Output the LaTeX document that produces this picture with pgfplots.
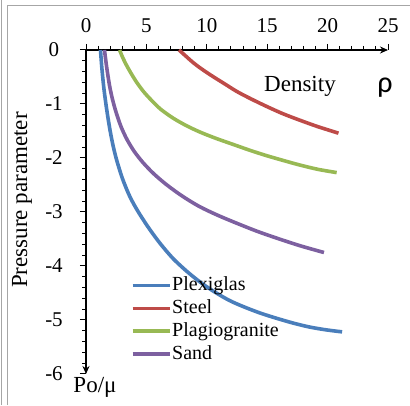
\documentclass[border=0pt]{standalone}
\usepackage{fontspec}
\setmainfont{Liberation Serif}
\newfontfamily\calib{Carlito}
\usepackage{pgfplots}
\pgfplotsset{compat=1.18}
\usetikzlibrary{arrows.meta}
\definecolor{cBlue}{RGB}{74,126,187}
\definecolor{cRed}{RGB}{190,75,72}
\definecolor{cGreen}{RGB}{152,185,84}
\definecolor{cPurple}{RGB}{125,96,160}
\begin{document}
\fontsize{20}{24}\selectfont
\begin{tikzpicture}[x=1pt,y=1pt]
\useasboundingbox (0pt,0pt) rectangle (410pt,405pt);
\draw[black!35, line width=1pt] (1.5pt,0pt) -- (1.5pt,405pt);
\draw[black!35, line width=1pt] (7pt,0pt) -- (7pt,399pt) -- (410pt,399pt);
\begin{axis}[
  every non boxed x axis/.style={},
  every non boxed y axis/.style={},
  axis x line=top, axis y line=left,
  at={(86pt,355pt)}, anchor=north west,
  scale only axis, width=302pt, height=324pt,
  xmin=0, xmax=25, ymin=-6, ymax=0, enlargelimits=false,
  x axis line style={-{Stealth[length=8pt,width=7pt]}},
  y axis line style={{Stealth[length=8pt,width=7pt]}-},
  axis line style={line width=1.2pt, black},
  xtick={0,5,...,25}, ytick={-6,-5,...,0},
  minor x tick num=4, minor y tick num=4,
  tick align=outside, major tick length=6pt, minor tick length=4pt,
  every tick/.style={black, line width=1pt},
  tick label style={font=\fontsize{21}{24}\selectfont},
  xticklabel style={yshift=4pt},
  yticklabel style={anchor=center, xshift=-26pt},
  /pgf/number format/assume math mode=true,
  clip=false,
  legend style={draw=none, fill=none, at={(axis cs:3.7,-4.18)}, anchor=north west,
    font=\fontsize{20}{22}\selectfont, row sep=4pt, inner sep=0pt,
    nodes={inner sep=1pt}},
  legend cell align=left,
  legend image code/.code={\draw[#1, line width=3.3pt] (0pt,0pt) -- (37pt,0pt);},
]
\addplot[cBlue, line width=3.6pt, smooth] coordinates {
 (1.2,0) (1.3,-0.3) (1.45,-0.65) (1.6,-0.92) (1.78,-1.2) (2.0,-1.5) (2.25,-1.78)
 (2.54,-2.04) (3.0,-2.37) (3.5,-2.65) (3.92,-2.84) (4.5,-3.06) (5.3,-3.33) (6.2,-3.6)
 (7.2,-3.86) (8.3,-4.09) (9.4,-4.29) (10.5,-4.46) (11.8,-4.63) (13,-4.75) (14.4,-4.87)
 (15.8,-4.97) (17.2,-5.06) (18.5,-5.13) (19.8,-5.18) (21.2,-5.22)};
\addlegendentry{Plexiglas}
\addplot[cRed, line width=3.6pt, smooth] coordinates {
 (7.7,0) (8.2,-0.1) (8.8,-0.22) (9.5,-0.34) (10.5,-0.49) (11.5,-0.63) (12.5,-0.77)
 (13.7,-0.91) (15,-1.05) (16.3,-1.18) (17.7,-1.30) (19.2,-1.42) (20.9,-1.54)};
\addlegendentry{Steel}
\addplot[cGreen, line width=3.6pt, smooth] coordinates {
 (2.78,0) (3.0,-0.12) (3.3,-0.26) (3.7,-0.42) (4.2,-0.6) (4.8,-0.78) (5.5,-0.95)
 (6.2,-1.1) (7.2,-1.26) (8.3,-1.4) (9.44,-1.52) (10.8,-1.64) (12.2,-1.75) (13.6,-1.86)
 (15,-1.96) (16.4,-2.05) (17.7,-2.13) (19.2,-2.21) (20.75,-2.27)};
\addlegendentry{Plagiogranite}
\addplot[cPurple, line width=3.6pt, smooth] coordinates {
 (1.53,0) (1.7,-0.3) (1.95,-0.66) (2.2,-0.92) (2.5,-1.16) (2.9,-1.42) (3.4,-1.66)
 (4.0,-1.88) (4.7,-2.08) (5.6,-2.29) (6.7,-2.50) (8.0,-2.71) (9.4,-2.90) (10.9,-3.06)
 (12.5,-3.21) (14.2,-3.36) (16,-3.50) (17.8,-3.63) (19.7,-3.75)};
\addlegendentry{Sand}
\end{axis}
\node at (300pt,319pt) {\fontsize{23}{26}\selectfont Density};
\node at (385pt,317pt) {\calib\fontsize{30}{32}\selectfont ρ};
\node at (95pt,18pt) {\fontsize{23}{26}\selectfont Po/μ};
\node[rotate=90] at (22pt,205pt) {\fontsize{23}{26}\selectfont Pressure parameter};
\end{tikzpicture}
\end{document}
